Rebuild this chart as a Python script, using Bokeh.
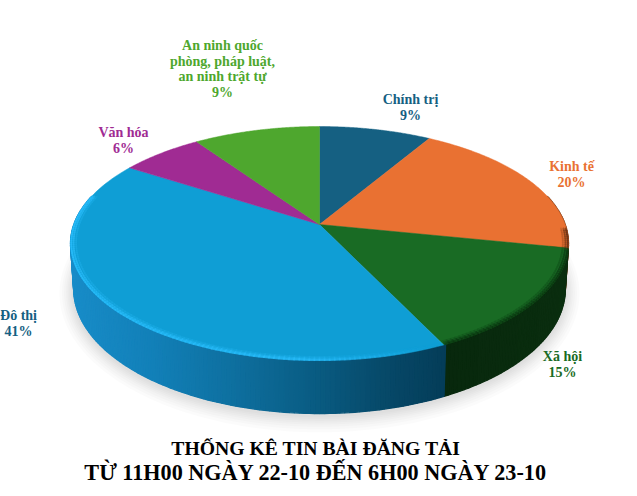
import numpy as np
from bokeh.embed import file_html
from bokeh.models import Range1d
from bokeh.plotting import figure
from bokeh.resources import INLINE

# Data (clockwise from 12 o'clock)
categories = ["Chính trị", "Kinh tế", "Xã hội", "Đô thị", "Văn hóa",
              "An ninh quốc\nphòng, pháp luật,\nan ninh trật tự"]
shares = [8.5, 19.7, 14.7, 41.2, 6.3, 9.6]
percent_labels = ["9%", "20%", "15%", "41%", "6%", "9%"]
title_lines = ["THỐNG KÊ TIN BÀI ĐĂNG TẢI", "TỪ 11H00 NGÀY 22-10 ĐẾN 6H00 NGÀY 23-10"]

# Styles and layout
colors = ["#156082", "#E97132", "#196B24", "#0F9ED5", "#A02B93", "#4EA72E"]
label_colors = ["#156082", "#E97132", "#196B24", "#156082", "#A02B93", "#4EA72E"]
label_x = [410, 571, 562, 18, 123, 222]
label_bottom = [122, 189, 379, 338, 155, 99]
W, H = 629, 488
CX, CY, R, S, K, D = 319, 224, 245.7, 113.9, 0.1625, 44.4


def top(t, r=1.0):
    u, v = r * np.sin(t), r * np.cos(t)
    w = 1 + K * v
    return CX + R * u / w, CY - S * v / w


def bottom(t, grow=0.0):
    u, v = np.sin(t), np.cos(t)
    w = 1 + K * v
    return CX + (0.987 * R + grow) * u / w, CY + (-(S + grow) * v + D) / w


def blend(stops, x):
    xs = [s[0] for s in stops]
    return "#%02x%02x%02x" % tuple(
        int(round(np.interp(x, xs, [s[1][i] for s in stops]))) for i in range(3)
    )


blue_wall = [(70, (24, 140, 200)), (150, (18, 128, 184)), (230, (14, 112, 160)),
             (320, (9, 90, 128)), (380, (7, 74, 106)), (447, (4, 60, 88))]
green_wall = [(447, (8, 40, 13)), (570, (10, 46, 15))]
orange_wall = [(500, (120, 60, 25)), (570, (120, 60, 25))]

p = figure(width=W, height=H, x_range=Range1d(0, W), y_range=Range1d(H, 0),
           output_backend="svg", toolbar_location=None, min_border=0)
p.axis.visible = False
p.grid.visible = False
p.outline_line_color = None
p.background_fill_color = "white"

# Soft shadow below the pie
full = np.linspace(0, 2 * np.pi, 241)
for grow in [14, 11.5, 9.5, 7.5, 6, 4.5, 3, 1.5]:
    sx, sy = bottom(full, grow)
    p.patch(sx, sy + 2, fill_color="#707070", fill_alpha=0.03, line_color=None)

# Cumulative slice boundaries in radians
edges = np.concatenate([[0], np.cumsum(shares)]) / sum(shares) * 2 * np.pi

# Front wall
steps = np.radians(np.arange(75, 285.5, 1.0))
wx, wy, wc = [], [], []
for a, b in zip(steps[:-1], steps[1:]):
    mid = (a + b) / 2
    idx = int(np.searchsorted(edges, mid) - 1)
    tx0, ty0 = top(a)
    tx1, ty1 = top(b)
    bx0, by0 = bottom(a)
    bx1, by1 = bottom(b)
    wx.append([tx0, tx1, bx1, bx0])
    wy.append([ty0, ty1, by1, by0])
    xm = (tx0 + tx1) / 2
    if idx == 3:
        wc.append(blend(blue_wall, xm))
    elif idx == 2:
        wc.append(blend(green_wall, xm))
    elif idx == 1:
        wc.append(blend(orange_wall, xm))
    else:
        wc.append(colors[idx])
p.patches(wx, wy, fill_color=wc, line_color=wc, line_width=1.3)

# Top surface
xs, ys = [], []
for a, b in zip(edges[:-1], edges[1:]):
    t = np.linspace(a, b, 100)
    ax, ay = top(t)
    xs.append(np.concatenate([[CX], ax]).tolist())
    ys.append(np.concatenate([[CY], ay]).tolist())
p.patches(xs, ys, fill_color=colors, line_color=colors, line_width=0.5)

# Bevelled rim of the near half
rim_steps = np.radians(np.arange(92, 286, 1.0))
for r, width, alpha in [(0.997, 2.0, 0.6), (0.988, 2.0, 0.4), (0.978, 2.0, 0.15)]:
    rx, ry, rc, ra = [], [], [], []
    for a, b in zip(rim_steps[:-1], rim_steps[1:]):
        mid = (a + b) / 2
        idx = int(np.searchsorted(edges, mid) - 1)
        x0, y0 = top(a, r)
        x1, y1 = top(b, r)
        rx.append([x0, x1])
        ry.append([y0, y1])
        if idx == 3:
            rc.append("#2CC0FF")
            ra.append(alpha * float(np.interp(x0, [70, 300, 430], [1.0, 1.0, 0.05])))
        elif idx == 2:
            rc.append("#08300E")
            ra.append(alpha)
        else:
            rc.append("#5A2A10")
            ra.append(alpha)
    p.multi_line(rx, ry, line_color=rc, line_alpha=ra, line_width=width, line_cap="round")

# Slice labels
for name, pct, x, yb, c in zip(categories, percent_labels, label_x, label_bottom, label_colors):
    lines = name.split("\n") + [pct]
    n = len(lines)
    tx = [x] * n
    ty = [yb - 15.5 * (n - 1 - i) for i in range(n)]
    p.text(tx, ty, text=lines, text_color=c, text_font={"value": "Liberation Serif"},
           text_font_size="14px", text_font_style="bold",
           text_align="center", text_baseline="bottom")

# Title
p.text([315.5], [447], text=[title_lines[0]], text_color="#000000",
       text_font={"value": "Liberation Serif"}, text_font_size="19.7px",
       text_font_style="bold", text_align="center", text_baseline="middle")
p.text([315.5], [472], text=[title_lines[1]], text_color="#000000",
       text_font={"value": "Liberation Serif"}, text_font_size="22.2px",
       text_font_style="bold", text_align="center", text_baseline="middle")

open("out.html", "w").write(file_html(p, INLINE))
